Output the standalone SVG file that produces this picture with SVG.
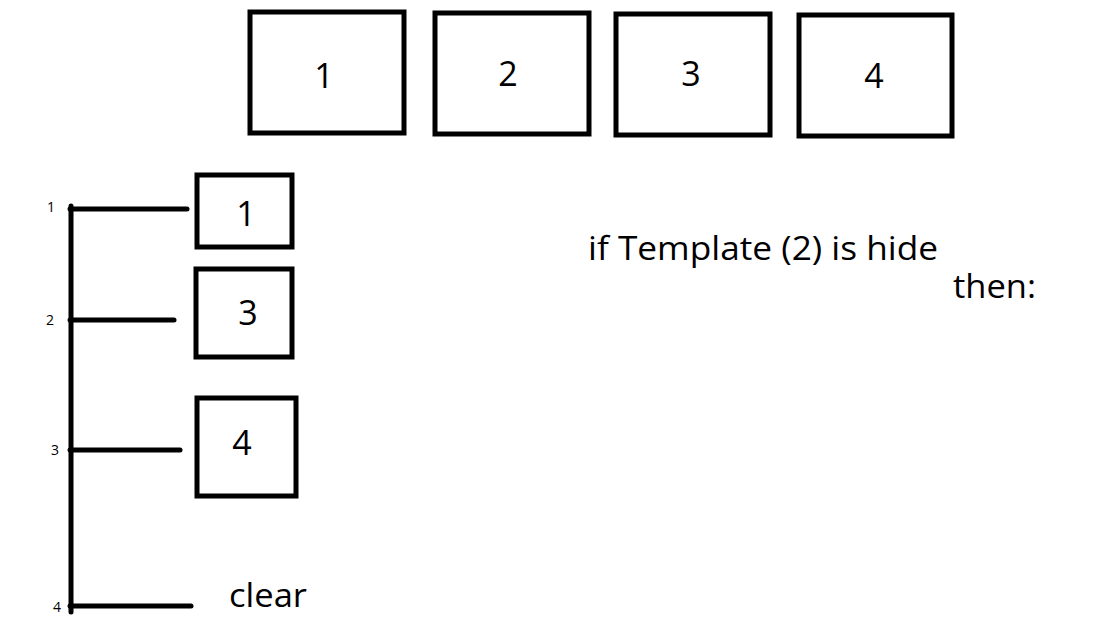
<svg xmlns="http://www.w3.org/2000/svg" width="1097" height="638" viewBox="0 0 1097 638">
<style>
.box{fill:#fff;stroke:#000;stroke-width:5}
.t{font-family:"Open Sans","Noto Sans",sans-serif;fill:#000}
.big{font-size:34px;text-anchor:middle}
.small{font-size:14px;font-family:"Open Sans","Noto Sans",sans-serif;fill:#000;text-anchor:middle}
.ln{stroke:#000;stroke-width:5;stroke-linecap:round;fill:none}
</style>
<rect width="1097" height="638" fill="#fff"/>
<g id="top1"><rect class="box" x="250" y="12" width="154" height="121"/><text class="t big" x="324" y="88">1</text></g>
<g id="top2"><rect class="box" x="435" y="13" width="154" height="121"/><text class="t big" x="508" y="86">2</text></g>
<g id="top3"><rect class="box" x="616" y="14" width="154" height="121"/><text class="t big" x="691" y="86">3</text></g>
<g id="top4"><rect class="box" x="799" y="15" width="153" height="121"/><text class="t big" x="874" y="88">4</text></g>
<g id="left1"><rect class="box" x="197" y="175" width="95" height="72"/><text class="t big" x="246" y="226">1</text></g>
<g id="left3"><rect class="box" x="196" y="269" width="96" height="88"/><text class="t big" x="248" y="325">3</text></g>
<g id="left4"><rect class="box" x="197" y="398" width="99" height="98"/><text class="t big" x="242" y="455">4</text></g>
<g id="connectors">
<line class="ln" x1="71" y1="206" x2="71" y2="612"/>
<line class="ln" x1="70" y1="209" x2="187" y2="209"/>
<line class="ln" x1="70" y1="320" x2="174" y2="320"/>
<line class="ln" x1="70" y1="450" x2="180" y2="450"/>
<line class="ln" x1="70" y1="606" x2="191" y2="606"/>
</g>
<g id="ticks">
<text class="small" x="51" y="212">1</text>
<text class="small" x="50" y="325">2</text>
<text class="small" x="55" y="455">3</text>
<text class="small" x="57" y="612">4</text>
</g>
<g id="labels">
<text class="t" x="229" y="607" font-size="33" textLength="78" lengthAdjust="spacingAndGlyphs">clear</text>
<text class="t" x="588" y="260" font-size="33" textLength="350" lengthAdjust="spacingAndGlyphs">if Template (2) is hide</text>
<text class="t" x="953" y="298" font-size="33" textLength="83" lengthAdjust="spacingAndGlyphs">then:</text>
</g>
</svg>
